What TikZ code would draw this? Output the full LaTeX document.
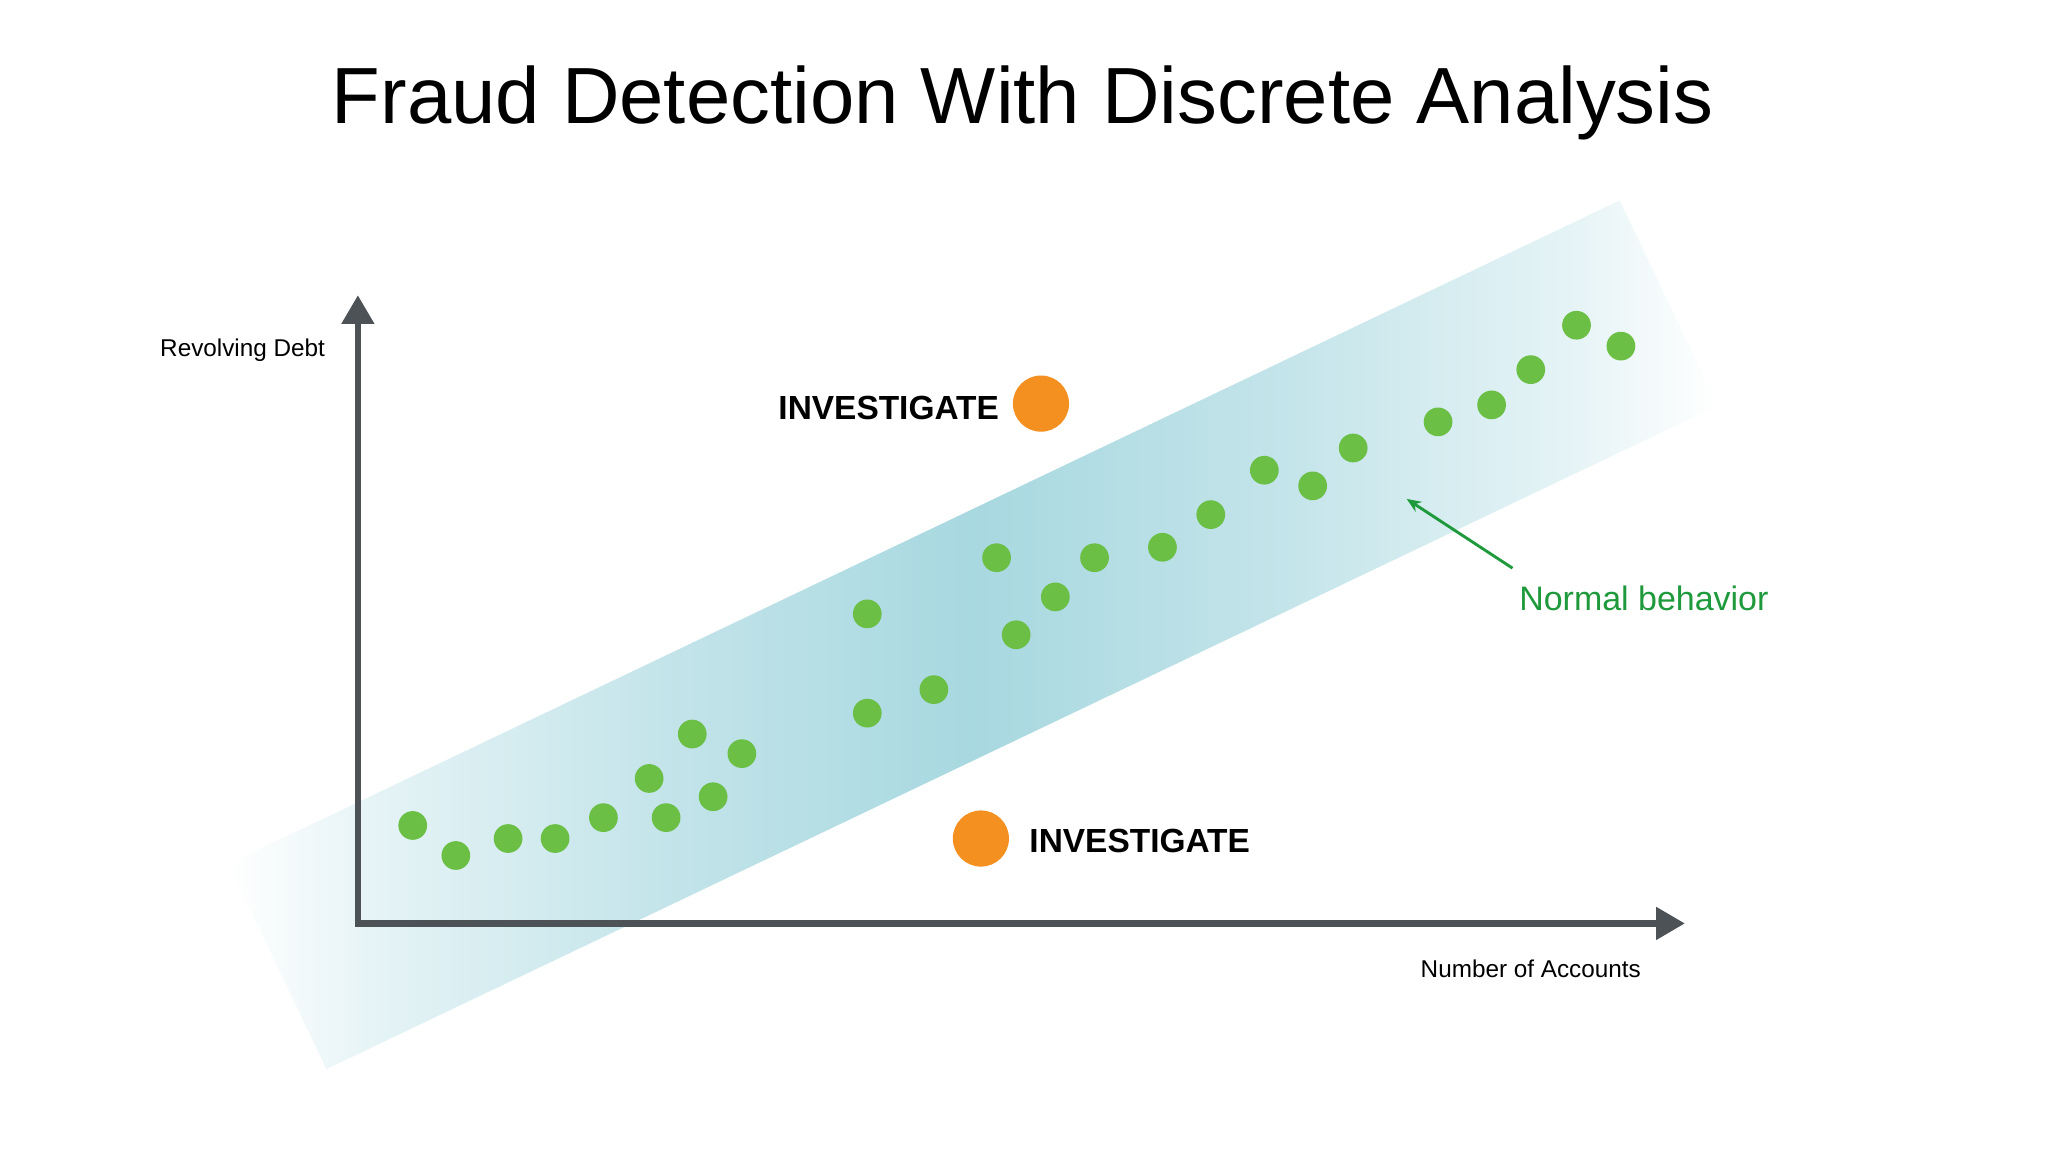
\documentclass[tikz,border=0pt]{standalone}
\usepackage{fontspec}
\setmainfont{Liberation Sans}
\usetikzlibrary{arrows.meta}
\definecolor{axisc}{HTML}{4D5257}
\definecolor{dotg}{HTML}{6CBF45}
\definecolor{dotor}{HTML}{F39020}
\definecolor{bandc}{HTML}{A8D8E0}
\definecolor{normg}{HTML}{1E9A3C}
\pgfdeclarehorizontalshading{bandsh}{100bp}{color(0bp)=(white); color(25bp)=(white); color(30bp)=(bandc!30); color(40bp)=(bandc!70); color(50bp)=(bandc); color(60bp)=(bandc!70); color(70bp)=(bandc!30); color(75bp)=(white); color(100bp)=(white)}
\tikzset{
 gdot/.style={circle,fill=dotg,minimum size=22pt,inner sep=0pt},
 odot/.style={circle,fill=dotor,minimum size=43pt,inner sep=0pt},
 axis/.style={line width=5pt,draw=axisc,-{Triangle[length=22pt,width=24pt]}},
 inv/.style={font=\fontsize{25.6}{30}\selectfont\bfseries,text=black,inner sep=0pt},
 lab/.style={font=\fontsize{18.6}{22}\selectfont,inner sep=0pt}
}
\begin{document}
\begin{tikzpicture}[x=1pt,y=-1pt]
\useasboundingbox[fill=white] (0,0) rectangle (1568,882);
\begin{scope}[shift={(745,486)},rotate=25.5]
\shade[shading=bandsh] (-590,-87) rectangle (590,87);
\end{scope}
\node[font=\fontsize{61}{72}\selectfont,inner sep=0pt] (title) at (783,79) {Fraud Detection With Discrete Analysis};
\coordinate (yt) at (274,226);
\coordinate (xt) at (1290,707);
\draw[axis] (274,709.5) -- (yt);
\draw[axis] (271.5,707) -- (xt);
\node[lab,anchor=east] (yl) at (249,268) {Revolving Debt};
\node[lab] (xl) at (1172,742) {Number of Accounts};
\foreach \x/\y [count=\i] in {316/632,349/655,389/642,425/642,462/626,497/596,510/626,530/562,546/610,568/577,664/470,664/546,715/528,763/427,778/486,808/457,838/427,890/419,927/394,968/360,1005/372,1036/343,1101/323,1142/310,1172/283,1207/249,1241/265}
  \node[gdot] (g\i) at (\x,\y) {};
\node[odot] (o1) at (797,309) {};
\node[odot] (o2) at (751,642) {};
\node[inv,anchor=east] (i1) at (765,312) {INVESTIGATE};
\node[inv,anchor=west] (i2) at (788,644) {INVESTIGATE};
\node[font=\fontsize{26}{30}\selectfont,text=normg,inner sep=0pt,anchor=west] (nb) at (1163,458) {Normal behavior};
\coordinate (nbs) at (1158,435);
\coordinate (nbe) at (1077,382);
\draw[normg,line width=2.2pt,-{Stealth[length=11pt,width=9pt]}] (nbs) -- (nbe);
\end{tikzpicture}
\end{document}
